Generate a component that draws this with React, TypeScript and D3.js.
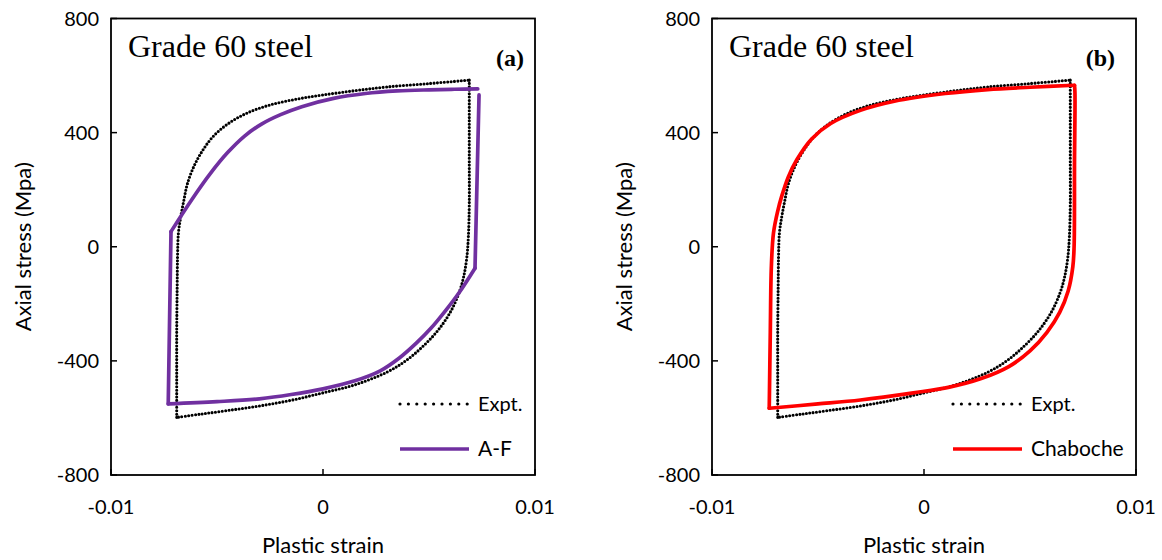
import React from "react";
import * as d3 from "d3";

type Pt = [number, number];

// Axis ticks
const xTicks = [-0.01, 0, 0.01];
const xTickLabels = ["-0.01", "0", "0.01"];
const yTicks = [-800, -400, 0, 400, 800];
const yTickLabels = ["-800", "-400", "0", "400", "800"];

// Experimental hysteresis loop (plastic strain, axial stress MPa)
const exptUpper: Pt[] = [
  [-0.0069, -598], [-0.0069, -450], [-0.0069, -300], [-0.00688, -150], [-0.00686, -30],
  [-0.00682, 48], [-0.00671, 105], [-0.00656, 164], [-0.0064, 220], [-0.0061, 280],
  [-0.0057, 335], [-0.0052, 385], [-0.0045, 430], [-0.0036, 468], [-0.0025, 497],
  [-0.0012, 518], [0, 532], [0.0015, 547], [0.003, 560], [0.005, 572], [0.0069, 584],
];
const exptLower: Pt[] = [
  [0.0069, 584], [0.0069, 450], [0.0069, 300], [0.0069, 150], [0.00686, 40],
  [0.00678, -40], [0.00662, -110], [0.0064, -165], [0.006, -230], [0.0054, -295],
  [0.0047, -350], [0.0039, -400], [0.003, -440], [0.0015, -484], [0, -512],
  [-0.0015, -538], [-0.003, -558], [-0.0045, -574], [-0.0058, -587], [-0.0069, -598],
];

// Armstrong-Frederick model branches
const afLeft: Pt[] = [[-0.0073, -551], [-0.00717, 53]];
const afUpper: Pt[] = [
  [-0.00717, 53], [-0.0062, 164], [-0.0053, 258], [-0.0045, 330], [-0.0037, 388],
  [-0.0029, 430], [-0.002, 463], [-0.001, 491], [0.0005, 520], [0.002, 537],
  [0.0035, 546], [0.005, 550], [0.0062, 552], [0.0073, 553],
];
const afRight: Pt[] = [[0.00736, 532], [0.00717, -75]];
const afLower: Pt[] = [
  [0.00717, -75], [0.0064, -163], [0.0058, -222], [0.0051, -285], [0.0044, -338],
  [0.0036, -390], [0.0027, -435], [0.0015, -470], [0, -498], [-0.0015, -518],
  [-0.003, -533], [-0.005, -543], [-0.0073, -551],
];

// Chaboche model branches
const chabUpper: Pt[] = [
  [-0.0073, -566], [-0.00725, -300], [-0.0072, -70], [-0.0071, 48], [-0.0069, 125],
  [-0.0067, 180], [-0.0064, 245], [-0.006, 305], [-0.0053, 378], [-0.0044, 432],
  [-0.003, 478], [-0.0014, 510], [0.001, 537], [0.003, 551], [0.005, 559],
  [0.0071, 566],
];
const chabLower: Pt[] = [
  [0.0071, 566], [0.00712, 540], [0.0071, 300], [0.00708, 0], [0.00702, -70],
  [0.0068, -155], [0.0064, -230], [0.0058, -300], [0.005, -365], [0.004, -420],
  [0.0027, -462], [0.0012, -492], [-0.0005, -512], [-0.003, -537], [-0.005, -551],
  [-0.0073, -566],
];

const TOP = 18.5;
const BOTTOM = 475;
const SANS = "Lato, 'Open Sans', sans-serif";
const SERIF = "'Liberation Serif', 'Times New Roman', serif";

type PanelCfg = {
  left: number;
  right: number;
  tag: string;
  tagDx: number;
  modelName: string;
  color: string;
  legendDx: number;
  modelCurves: Pt[][];
  smooth: boolean[];
};

const panels: PanelCfg[] = [
  {
    left: 111, right: 535, tag: "(a)", tagDx: -11, modelName: "A-F", color: "#7030A0",
    legendDx: -135, modelCurves: [afLeft, afUpper, afRight, afLower], smooth: [false, true, false, true],
  },
  {
    left: 712, right: 1136, tag: "(b)", tagDx: -21, modelName: "Chaboche", color: "#FF0000",
    legendDx: -183, modelCurves: [chabUpper, chabLower], smooth: [true, true],
  },
];

function Panel({ cfg }: { cfg: PanelCfg }) {
  const x = d3.scaleLinear().domain([-0.01, 0.01]).range([cfg.left, cfg.right]);
  const y = d3.scaleLinear().domain([-800, 800]).range([BOTTOM, TOP]);
  const smoothLine = d3.line<Pt>().x((d) => x(d[0])).y((d) => y(d[1])).curve(d3.curveCatmullRom.alpha(0.5));
  const straightLine = d3.line<Pt>().x((d) => x(d[0])).y((d) => y(d[1]));
  const midY = (TOP + BOTTOM) / 2;
  const midX = (cfg.left + cfg.right) / 2;
  const lx1 = cfg.right + cfg.legendDx;
  const lx2 = lx1 + 68;
  return (
    <g>
      {/* experimental loop */}
      {[exptUpper, exptLower].map((c, i) => (
        <path key={"e" + i} d={smoothLine(c) || ""} fill="none" stroke="#000" strokeWidth={3.1}
          strokeLinecap="round" strokeDasharray="0 3.4" />
      ))}
      {/* model loop */}
      {cfg.modelCurves.map((c, i) => (
        <path key={"m" + i} d={(cfg.smooth[i] ? smoothLine(c) : straightLine(c)) || ""} fill="none"
          stroke={cfg.color} strokeWidth={3.7} strokeLinecap="round" strokeLinejoin="round" />
      ))}
      {/* frame */}
      <rect x={cfg.left} y={TOP} width={cfg.right - cfg.left} height={BOTTOM - TOP} fill="none" stroke="#000" strokeWidth={1.8} />
      {/* y ticks */}
      {yTicks.map((t, i) => (
        <g key={"y" + t}>
          <line x1={cfg.left} x2={cfg.left + 6} y1={y(t)} y2={y(t)} stroke="#000" strokeWidth={1.5} />
          <text x={cfg.left - 12} y={y(t)} dy="0.35em" textAnchor="end" fontFamily={SANS} fontSize={20} fill="#000">
            {yTickLabels[i]}
          </text>
        </g>
      ))}
      {/* x ticks */}
      {xTicks.map((t, i) => (
        <g key={"x" + t}>
          <line x1={x(t)} x2={x(t)} y1={BOTTOM} y2={BOTTOM - 6} stroke="#000" strokeWidth={1.5} />
          <text x={x(t)} y={514} textAnchor="middle" fontFamily={SANS} fontSize={20} fill="#000">
            {xTickLabels[i]}
          </text>
        </g>
      ))}
      {/* axis titles */}
      <text x={midX} y={553} textAnchor="middle" fontFamily={SANS} fontSize={22} fill="#000">Plastic strain</text>
      <text transform={`translate(${cfg.left - 88},${midY}) rotate(-90)`} textAnchor="middle" dy="0.35em"
        fontFamily={SANS} fontSize={22} fill="#000">Axial stress (Mpa)</text>
      {/* annotations */}
      <text x={cfg.left + 17} y={57} fontFamily={SERIF} fontSize={32} fill="#000">Grade 60 steel</text>
      <text x={cfg.right + cfg.tagDx} y={66} textAnchor="end" fontFamily={SERIF} fontWeight="bold" fontSize={24} fill="#000">
        {cfg.tag}
      </text>
      {/* legend */}
      <line x1={lx1} x2={lx2} y1={404} y2={404} stroke="#000" strokeWidth={3.2} strokeLinecap="round" strokeDasharray="0 8.4" />
      <text x={lx2 + 10} y={404} dy="0.35em" fontFamily={SANS} fontSize={20} fill="#000">Expt.</text>
      <line x1={lx1} x2={lx2 + 1} y1={449} y2={449} stroke={cfg.color} strokeWidth={3.7} />
      <text x={lx2 + 10} y={449} dy="0.35em" fontFamily={SANS} fontSize={21} fill="#000">{cfg.modelName}</text>
    </g>
  );
}

export default function App() {
  return (
    <svg width={1162} height={560} style={{ position: "absolute", left: 0, top: 0, background: "#fff" }}>
      <rect width={1162} height={560} fill="#fff" />
      {panels.map((p) => (
        <Panel key={p.tag} cfg={p} />
      ))}
    </svg>
  );
}
